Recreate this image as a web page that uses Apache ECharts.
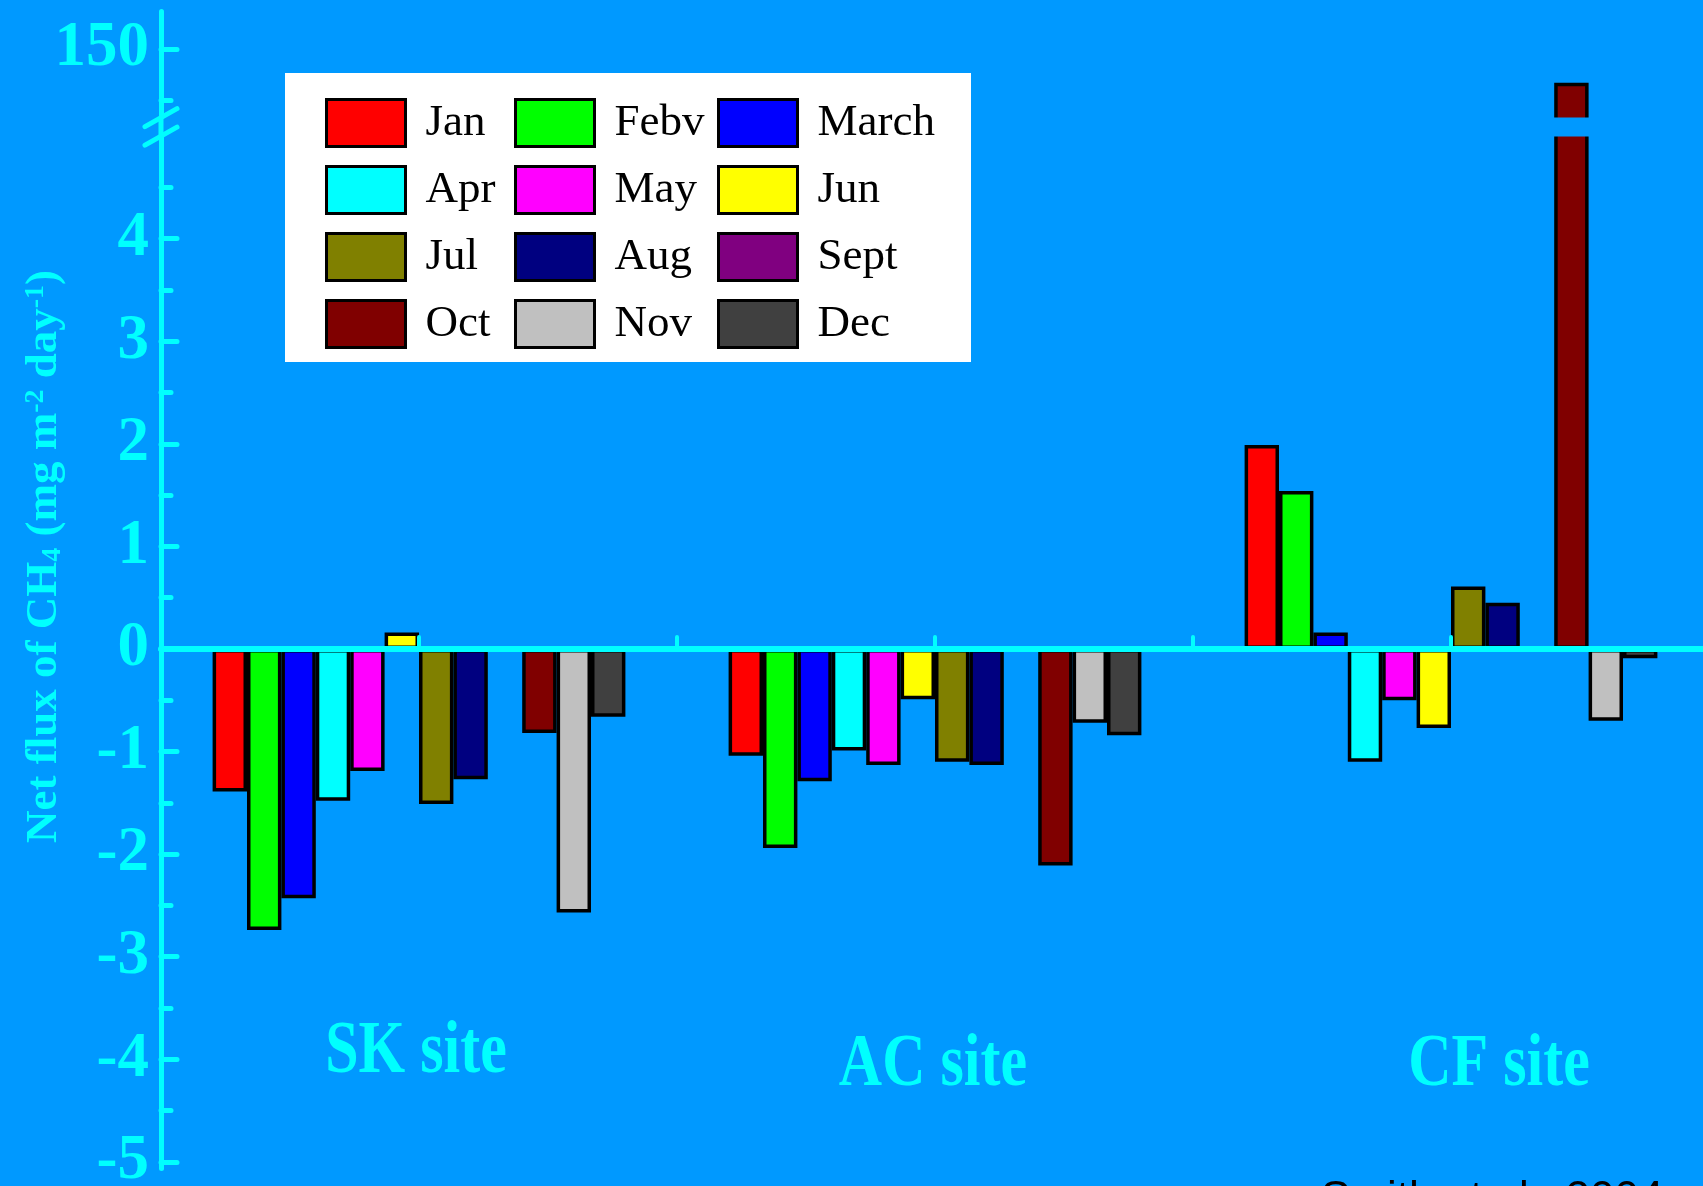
<!DOCTYPE html>
<html><head><meta charset="utf-8">
<script src="https://cdn.jsdelivr.net/npm/echarts@6/dist/echarts.min.js"></script>
<style>html,body{margin:0;padding:0;background:#0099ff}#c{width:1703px;height:1186px}</style>
</head><body><div id="c"></div>
<script>
// ---- data ----
const sites = ['SK site', 'AC site', 'CF site'];
const months = ['Jan', 'Febv', 'March', 'Apr', 'May', 'Jun', 'Jul', 'Aug', 'Sept', 'Oct', 'Nov', 'Dec'];
// values per month: [SK, AC, CF]
const jan   = [-1.39, -1.04, 1.99];
const feb   = [-2.74, -1.94, 1.54];
const mar   = [-2.43, -1.29, 0.16];
const apr   = [-1.48, -0.99, -1.10];
const may   = [-1.19, -1.13, -0.50];
const jun   = [0.16, -0.49, -0.77];
const jul   = [-1.51, -1.10, 0.61];
const aug   = [-1.27, -1.13, 0.45];
const sept  = [null, null, null];
const oct   = [-0.82, -2.11, 149.67];
const nov   = [-2.57, -0.72, -0.70];
const dec   = [-0.66, -0.84, -0.09];
const yTickValues = [-5, -4, -3, -2, -1, 0, 1, 2, 3, 4, 150];
const yMinorTickValues = [-4.5, -3.5, -2.5, -1.5, -0.5, 0.5, 1.5, 2.5, 3.5, 4.5, 149.5];
const axisBreak = { start: 5.0, end: 149.33 };
const citation = 'Smith et al., 2004';

// ---- styles ----
const BG = '#0099ff';
const CYAN = '#00ffff';
const monthColors = ['#ff0000', '#00ff00', '#0000ff', '#00ffff', '#ff00ff', '#ffff00',
                     '#808000', '#000080', '#800080', '#800000', '#c0c0c0', '#404040'];
const monthValues = [jan, feb, mar, apr, may, jun, jul, aug, sept, oct, nov, dec];
// site label placement tweaks (pixels, layout only)
const siteLabelShift = [[-3, 1053], [-2, 1066], [48, 1066]];

const chart = echarts.init(document.getElementById('c'), null, { renderer: 'canvas' });

const serif = 'Liberation Serif, Times New Roman, serif';

const series = months.map((m, i) => ({
  name: m,
  type: 'bar',
  data: monthValues[i],
  barGap: '0%',
  barCategoryGap: '20%',
  itemStyle: { color: monthColors[i], borderColor: '#000', borderWidth: 3.5 },
  emphasis: { disabled: true }
}));

const legendCommon = {
  orient: 'vertical', top: 98, itemWidth: 79, itemHeight: 47, itemGap: 17, z: 10,
  icon: 'rect', padding: 0, selectedMode: false,
  itemStyle: { borderColor: '#000', borderWidth: 3 },
  textStyle: { fontFamily: serif, fontSize: 45, color: '#000', padding: [0, 0, 0, 15] }
};

const tickStyle = { color: CYAN, width: 5, cap: 'round' };

const option = {
  backgroundColor: BG,
  animation: false,
  grid: { left: 161, right: -6, top: 11, bottom: 18, containLabel: false, outerBoundsMode: 'none' },
  legend: [
    Object.assign({ left: 325, data: ['Jan', 'Apr', 'Jul', 'Oct'] }, legendCommon),
    Object.assign({ left: 514, data: ['Febv', 'May', 'Aug', 'Nov'] }, legendCommon),
    Object.assign({ left: 717, data: ['March', 'Jun', 'Sept', 'Dec'] }, legendCommon)
  ],
  xAxis: [
    {
      type: 'category', z: 5,
      data: sites,
      axisLine: { onZero: true, lineStyle: { color: CYAN, width: 6 } },
      axisTick: { show: true, inside: true, length: 12, alignWithLabel: false, lineStyle: { color: CYAN, width: 4, cap: 'round' } },
      axisLabel: { show: false }
    },
    {
      type: 'category', z: 5, position: 'bottom',
      data: sites,
      axisLine: { show: false, onZero: true, onZeroAxisIndex: 0 },
      axisTick: { show: true, inside: true, length: 12, alignWithLabel: true, lineStyle: { color: CYAN, width: 4, cap: 'round' } },
      axisLabel: { show: false }
    }
  ],
  yAxis: [
    {
      type: 'value', position: 'left', min: -5.06, max: 150.37,
      breaks: [{ start: axisBreak.start, end: axisBreak.end, gap: '1.6%' }],
      breakArea: { show: true, itemStyle: { color: BG, borderWidth: 0, opacity: 1 }, zigzagAmplitude: 0, zigzagZ: 2.5 },
      splitLine: { show: false },
      axisLine: { show: true, onZero: false, lineStyle: { color: CYAN, width: 5 } },
      axisTick: { show: true, inside: true, length: 16, customValues: yTickValues, lineStyle: tickStyle },
      axisLabel: { customValues: yTickValues, margin: 12, color: CYAN, fontFamily: serif, fontWeight: 'bold', fontSize: 63 },
      name: '{b|Net flux of CH}{sub|4}{b| (mg m}{sup|-2}{b| day}{sup|-1}{b|)}',
      nameLocation: 'middle', nameRotate: 90, nameGap: 94, nameMoveOverlap: false,
      nameTextStyle: {
        padding: [0, 0, 0, 66],
        rich: {
          b: { fontFamily: serif, fontWeight: 'bold', fontSize: 45, color: CYAN },
          sub: { fontFamily: serif, fontWeight: 'bold', fontSize: 28, color: CYAN, verticalAlign: 'bottom' },
          sup: { fontFamily: serif, fontWeight: 'bold', fontSize: 28, color: CYAN, verticalAlign: 'top' }
        }
      }
    },
    {
      type: 'value', position: 'left', offset: 0, min: -5.06, max: 150.37,
      breaks: [{ start: axisBreak.start, end: axisBreak.end, gap: '1.6%' }],
      breakArea: { show: false },
      splitLine: { show: false },
      axisLine: { show: false },
      axisTick: { show: true, inside: true, length: 10, customValues: yMinorTickValues, lineStyle: tickStyle },
      axisLabel: { show: false }
    }
  ],
  graphic: [
    { id: 'legendBox', type: 'rect', z: 3, shape: { x: 285, y: 73, width: 686, height: 289 }, style: { fill: '#fff' } },
    { id: 'cite', type: 'text', x: 1321, y: 1178, style: { text: citation, fill: '#000', font: '44px "Liberation Sans", Arial, sans-serif', textVerticalAlign: 'top' } }
  ],
  series: series
};

chart.setOption(option);

// break marks on the y axis and site labels (positioned from the axis scales)
const yLow = chart.convertToPixel({ yAxisIndex: 0 }, axisBreak.start);
const yHigh = chart.convertToPixel({ yAxisIndex: 0 }, axisBreak.end);
const ax = 161;
const extra = [
  { id: 'gapAxis', type: 'line', z: 200, shape: { x1: ax, y1: yHigh, x2: ax, y2: yLow }, style: { stroke: CYAN, lineWidth: 5 } },
  { id: 'slash1', type: 'line', z: 200, shape: { x1: ax - 16, y1: yHigh + 9, x2: ax + 16, y2: yHigh - 9 }, style: { stroke: CYAN, lineWidth: 5, lineCap: 'round' } },
  { id: 'slash2', type: 'line', z: 200, shape: { x1: ax - 16, y1: yLow + 9, x2: ax + 16, y2: yLow - 9 }, style: { stroke: CYAN, lineWidth: 5, lineCap: 'round' } }
];
sites.forEach((s, i) => {
  const cx = chart.convertToPixel({ xAxisIndex: 0 }, s);
  extra.push({
    id: 'site' + i, type: 'text', z: 10,
    x: cx + siteLabelShift[i][0], y: siteLabelShift[i][1], scaleX: 0.8,
    style: { text: s, fill: CYAN, font: 'bold 75px "Liberation Serif", "Times New Roman", serif', textAlign: 'center', textVerticalAlign: 'middle' }
  });
});
chart.setOption({ graphic: extra });
</script>
</body></html>
